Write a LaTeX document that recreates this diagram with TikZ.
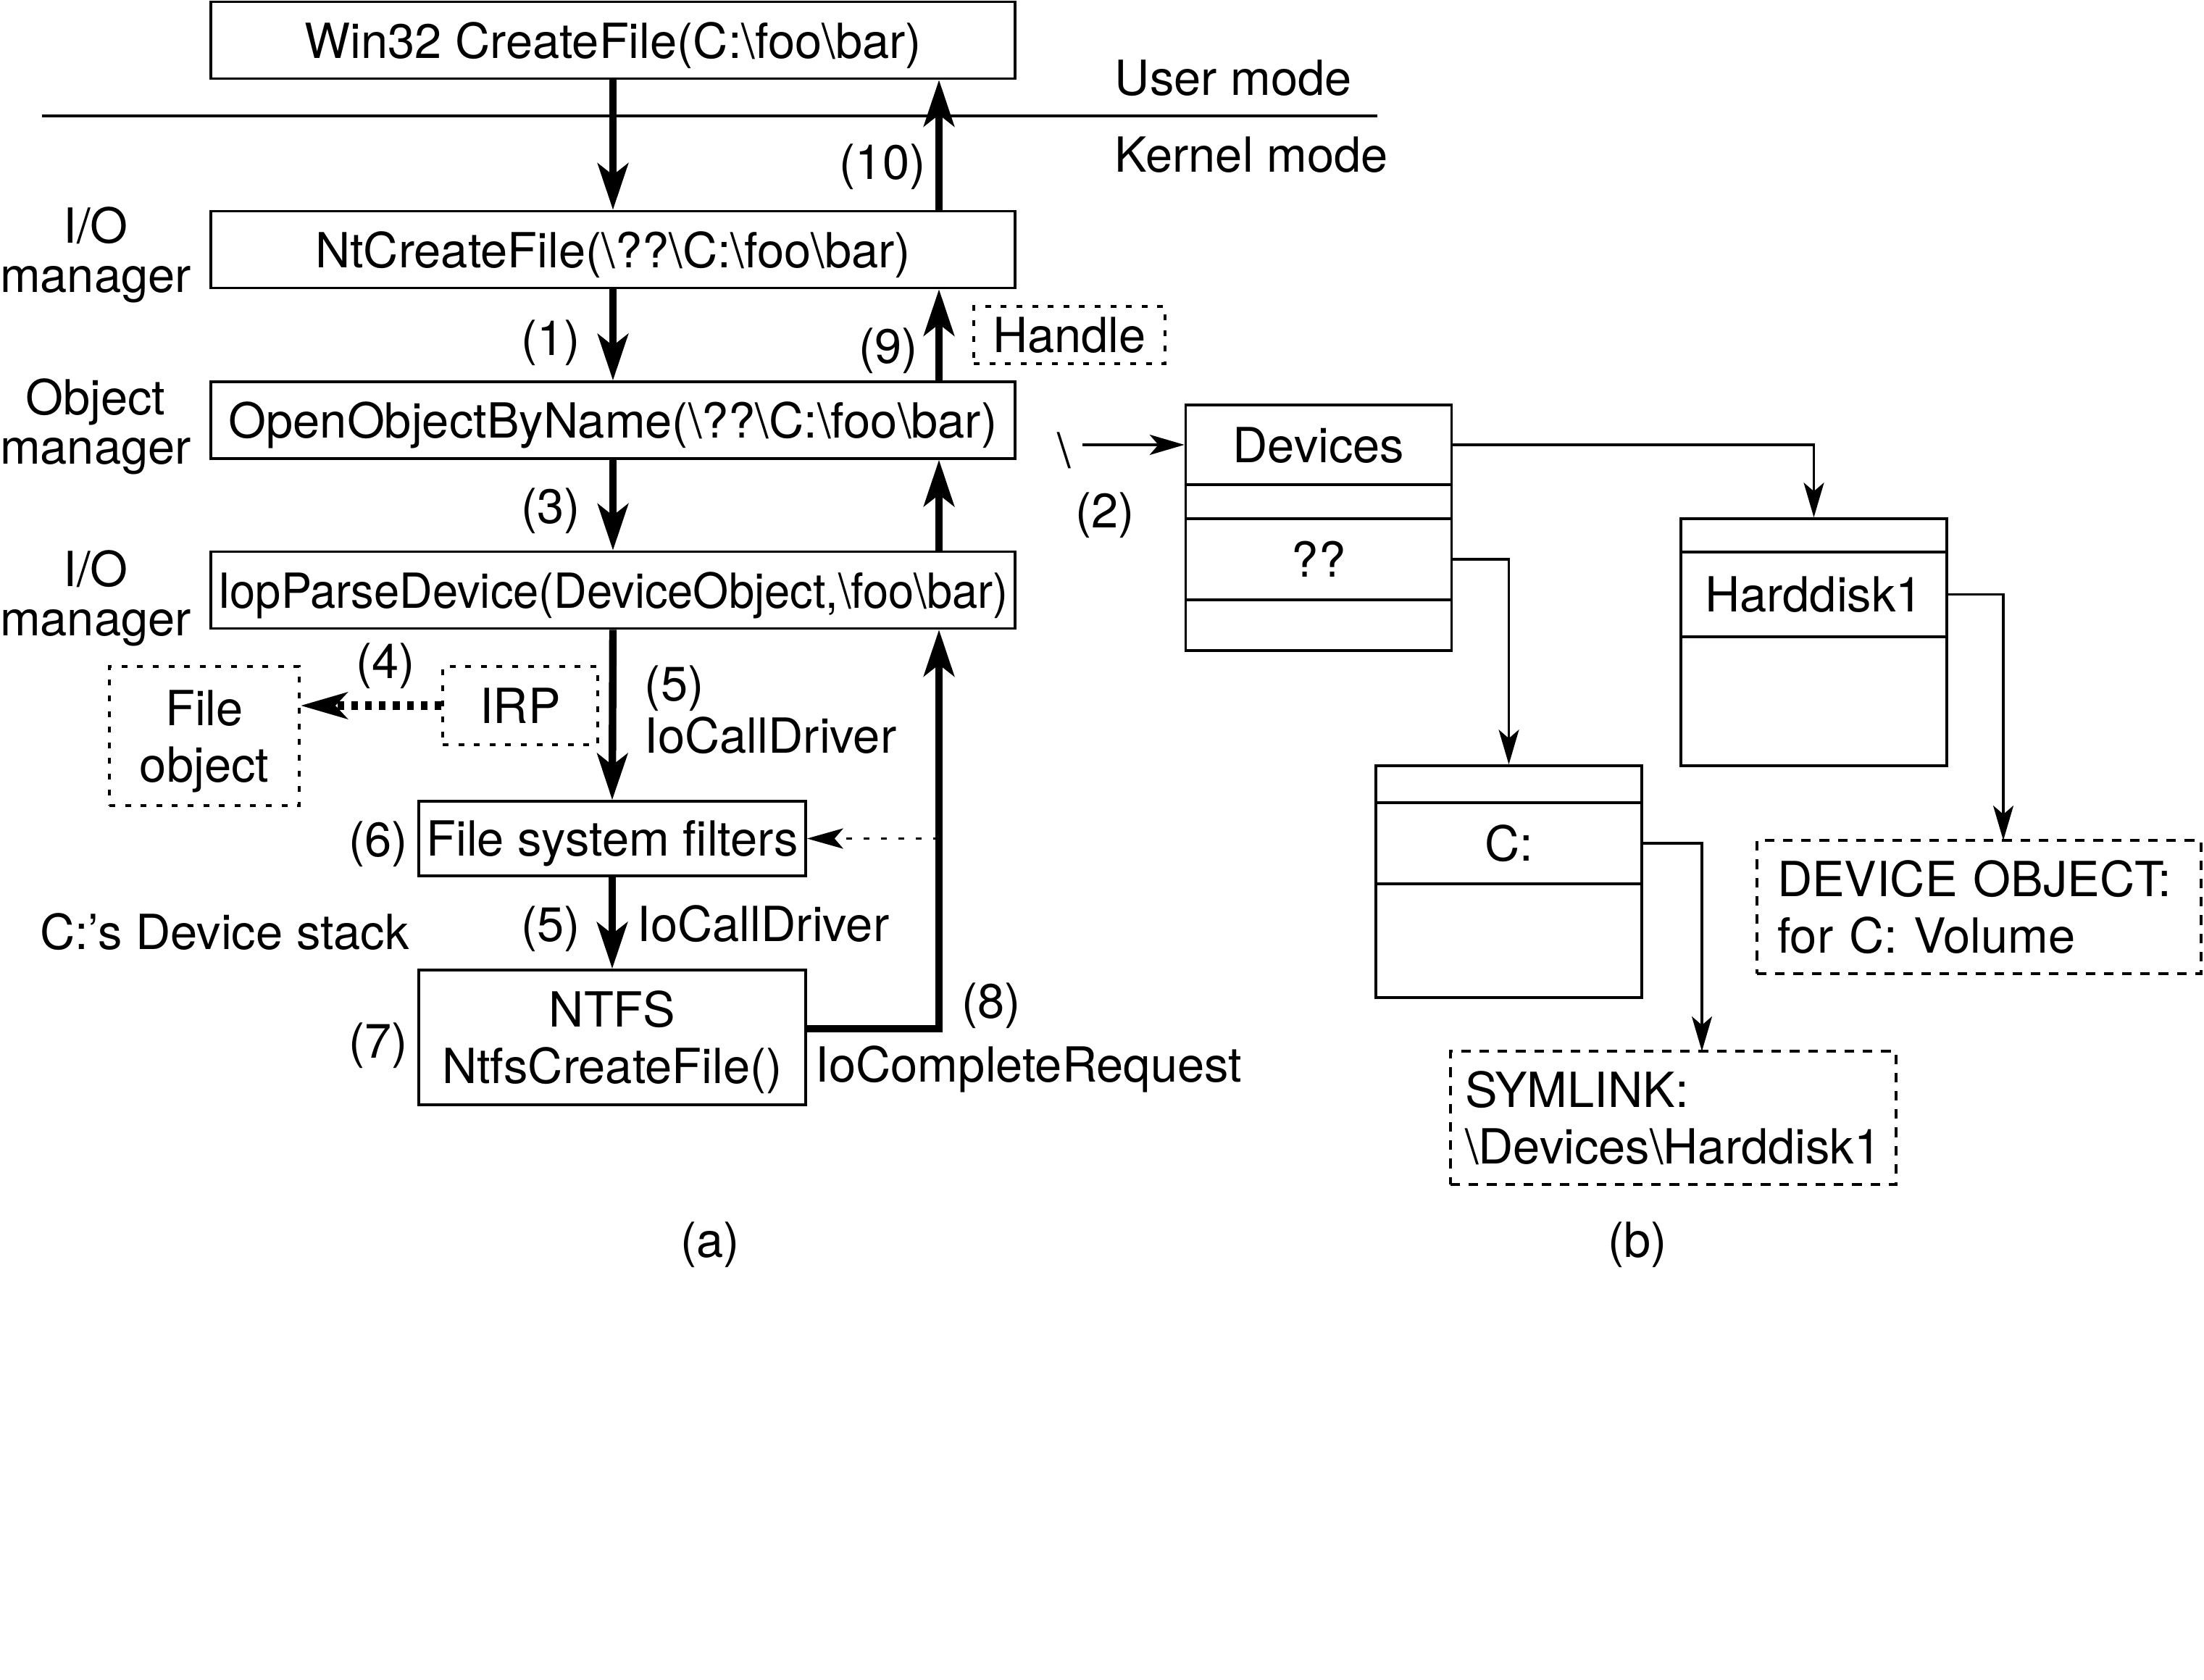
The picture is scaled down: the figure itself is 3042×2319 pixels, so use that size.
\documentclass[tikz,border=0pt]{standalone}
\usepackage{fontspec}
\usepackage{graphicx}
\setmainfont{TeX Gyre Heros}
\usetikzlibrary{arrows.meta}
\newcommand{\lblfont}{\fontsize{16.7}{19.5}\selectfont}
\begin{document}
\begin{tikzpicture}[x=0.25pt,y=-0.25pt,
  every node/.style={font=\lblfont, inner sep=0pt, text depth=0pt},
  box/.style={draw, line width=0.9pt, minimum width=277.5pt, minimum height=26.5pt},
  sbox/.style={draw, line width=0.9pt, minimum width=133.5pt, align=center},
  cell/.style={draw, line width=0.9pt, minimum width=91.75pt},
  dotbox/.style={draw, line width=0.9pt, dash pattern=on 2pt off 3.4pt, align=center},
  dashbox/.style={draw, line width=0.9pt, dash pattern=on 3.3pt off 3pt, align=left, text depth={}},
  thickarr/.style={line width=2.6pt, -{Stealth[length=16pt,width=10.5pt,inset=4pt]}},
  thinarr/.style={line width=0.8pt, -{Stealth[length=12pt,width=7pt,inset=3pt]}},
  lbl/.style={align=center, font=\fontsize{16.7}{17}\selectfont}
]
\useasboundingbox (0,0) rectangle (3042,2319);

% ---- (a) left part ----
\node[box] (win) at (846,55.5) {Win32 CreateFile(C:\textbackslash foo\textbackslash bar)};
\node[box] (nt) at (846,344.5) {NtCreateFile(\textbackslash ??\textbackslash C:\textbackslash foo\textbackslash bar)};
\node[box] (oobn) at (846,580) {OpenObjectByName(\textbackslash ??\textbackslash C:\textbackslash foo\textbackslash bar)};
\node[box] (iop) at (846,814.5) {\scalebox{0.946}[1]{IopParseDevice(DeviceObject,\textbackslash foo\textbackslash bar)}};

\coordinate (upx) at (1296,0);
\coordinate (sepL) at (58,160);
\coordinate (sepR) at (1901,160);
\draw[line width=0.9pt] (sepL) -- (sepR);

\node[anchor=west] (umode) at (1538,107) {User mode};
\node[anchor=west] (kmode) at (1538,213) {Kernel mode};

\node[lbl] (iom1) at (132,345) {I/O\\manager};
\node[lbl] (objm) at (132,582) {Object\\manager};
\node[lbl] (iom2) at (132,819) {I/O\\manager};

\node[dotbox, minimum width=66pt, minimum height=19.75pt] (handle) at (1476,462.5) {Handle};
\node[dotbox, minimum width=65.5pt, minimum height=48pt, text depth=-2.3pt] (fobj) at (282,1016) {File\\object};
\node[dotbox, minimum width=53.5pt, minimum height=27pt] (irp) at (718,974) {IRP};

\node[sbox, minimum height=25.75pt] (filt) at (845,1157.5) {File system filters};
\node[sbox, minimum height=46.5pt] (ntfs) at (845,1432) {NTFS\\NtfsCreateFile()};

% thick arrows down
\draw[thickarr] (win.south) -- (nt.north);
\draw[thickarr] (nt.south) -- (oobn.north);
\draw[thickarr] (oobn.south) -- (iop.north);
\draw[thickarr] (iop.south) -- (filt.north);
\draw[thickarr] (filt.south) -- (ntfs.north);
% thick arrows up
\draw[thickarr] (nt.north -| upx) -- (win.south -| upx);
\draw[thickarr] (oobn.north -| upx) -- (nt.south -| upx);
\draw[thickarr] (iop.north -| upx) -- (oobn.south -| upx);
\draw[thickarr] ([yshift=3pt]ntfs.east) -| (iop.south -| upx);
% dotted arrows
\draw[line width=3pt, dash pattern=on 2.3pt off 2.5pt, -{Stealth[length=16pt,width=9pt,inset=4pt]}]
  (irp.west) -- (irp.west -| fobj.east);
\draw[line width=0.9pt, dash pattern=on 2pt off 4pt, -{Stealth[length=12.5pt,width=7pt,inset=3pt]}]
  (filt.east -| upx) -- (filt.east);

% labels
\node (l10) at (1218,223) {(10)};
\node (l1) at (760,466) {(1)};
\node (l9) at (1226,477) {(9)};
\node (l3) at (760,698) {(3)};
\node (l4) at (532,912) {(4)};
\node[anchor=west] (l5a) at (889,943) {(5)};
\node[anchor=west] (icd1) at (889,1015) {IoCallDriver};
\node (l6) at (522,1158) {(6)};
\node (cds) at (310,1286) {C:’s Device stack};
\node (l5b) at (760,1275) {(5)};
\node[anchor=west] (icd2) at (879,1275) {IoCallDriver};
\node (l7) at (522,1436) {(7)};
\node (l8) at (1368,1381) {(8)};
\node[anchor=west] (icr) at (1125,1469) {IoCompleteRequest};
\node (capa) at (980,1711) {(a)};

% ---- (b) right part ----
\node[cell, minimum height=27.5pt] (devA) at (1820,614) {Devices};
\node[cell, minimum height=11.75pt] (devB) at (1820,692.5) {};
\node[cell, minimum height=28pt] (devC) at (1820,772) {??};
\node[cell, minimum height=17.5pt] (devD) at (1820,863) {};

\node[cell, minimum height=11.5pt] (hdA) at (2503.5,739) {};
\node[cell, minimum height=29.25pt] (hdB) at (2503.5,820.5) {Harddisk1};
\node[cell, minimum height=44.5pt] (hdC) at (2503.5,968) {};

\node[cell, minimum height=12.75pt] (cA) at (2082.5,1082.5) {};
\node[cell, minimum height=28pt] (cB) at (2082.5,1164) {C:};
\node[cell, minimum height=39.25pt] (cC) at (2082.5,1298.5) {};

\node[dashbox, minimum height=46pt, text width=143.75pt, inner xsep=5pt] (sym) at (2309.5,1543)
  {SYMLINK:\\\textbackslash Devices\textbackslash Harddisk1};
\node[dashbox, minimum height=46pt, text width=139.25pt, inner xsep=7pt] (dobj) at (2731.5,1252)
  {DEVICE OBJECT:\\for C: Volume};

\coordinate (rootin) at (1494,614);
\coordinate (symin) at (2349,1451);
\coordinate (dobjin) at (2765,1160);

\node (bsl) at (1469,621) {\textbackslash};
\node (l2) at (1525,704) {(2)};
\draw[thinarr] (rootin) -- (devA.west);
\draw[thinarr] (devA.east) -| (hdA.north);
\draw[thinarr] (devC.east) -| (cA.north);
\draw[thinarr] (cB.east) -| (symin);
\draw[thinarr] (hdB.east) -| (dobjin);

\node (capb) at (2260,1711) {(b)};
\end{tikzpicture}
\end{document}
